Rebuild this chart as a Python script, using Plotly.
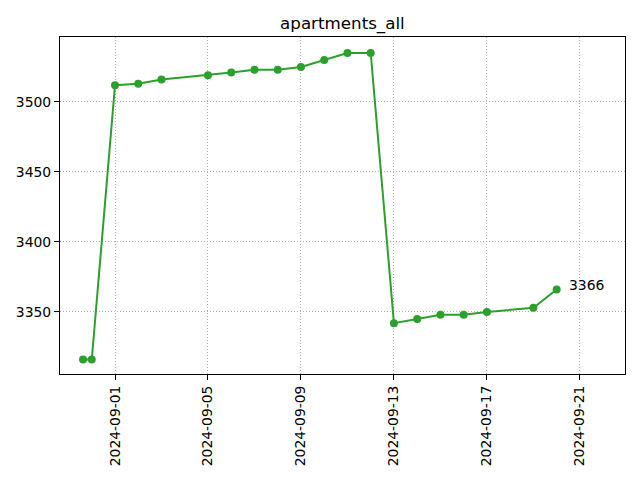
import plotly.graph_objects as go

dates = ["2024-08-30 15:00", "2024-08-31", "2024-09-01", "2024-09-02", "2024-09-03",
         "2024-09-05", "2024-09-06", "2024-09-07", "2024-09-08", "2024-09-09",
         "2024-09-10", "2024-09-11", "2024-09-12", "2024-09-13", "2024-09-14",
         "2024-09-15", "2024-09-16", "2024-09-17", "2024-09-19", "2024-09-20"]
values = [3316, 3316, 3512, 3513, 3516, 3519, 3521, 3523, 3523, 3525,
          3530, 3535, 3535, 3342, 3345, 3348, 3348, 3350, 3353, 3366]
x_ticks = ["2024-09-01", "2024-09-05", "2024-09-09", "2024-09-13", "2024-09-17", "2024-09-21"]
y_ticks = [3350, 3400, 3450, 3500]
title = "apartments_all"
color = "#2ca02c"

fig = go.Figure()
fig.add_trace(go.Scatter(x=dates, y=values, mode="lines+markers",
                         line=dict(color=color, width=2),
                         marker=dict(color=color, size=8),
                         showlegend=False))
fig.add_annotation(x=dates[-1], y=values[-1], text=str(values[-1]),
                   showarrow=False, xanchor="left", yanchor="middle",
                   xshift=10, yshift=5,
                   font=dict(family="DejaVu Sans", size=13.9, color="black"))

axis_common = dict(showline=True, linecolor="black", linewidth=1, mirror=True,
                   ticks="outside", ticklen=5, tickcolor="black", tickwidth=1,
                   showgrid=True, gridcolor="#b0b0b0", gridwidth=1, griddash="1px,2px",
                   zeroline=False,
                   tickfont=dict(family="DejaVu Sans", size=13.9, color="black"))

fig.update_xaxes(range=["2024-08-29 15:12", "2024-09-22 22:34"],
                 tickvals=x_ticks, ticktext=x_ticks, tickangle=-90, **axis_common)
fig.update_yaxes(range=[3305.7, 3546.4], tickvals=y_ticks,
                 ticktext=[str(v) for v in y_ticks], **axis_common)

fig.update_layout(
    width=640, height=480,
    margin=dict(l=60, r=15, t=37, b=106),
    paper_bgcolor="white", plot_bgcolor="white",
    title=dict(text=title, x=0.535, xanchor="center", y=0.952, yanchor="middle",
               font=dict(family="DejaVu Sans", size=16.7, color="black")),
)

fig.write_html("out.html")
